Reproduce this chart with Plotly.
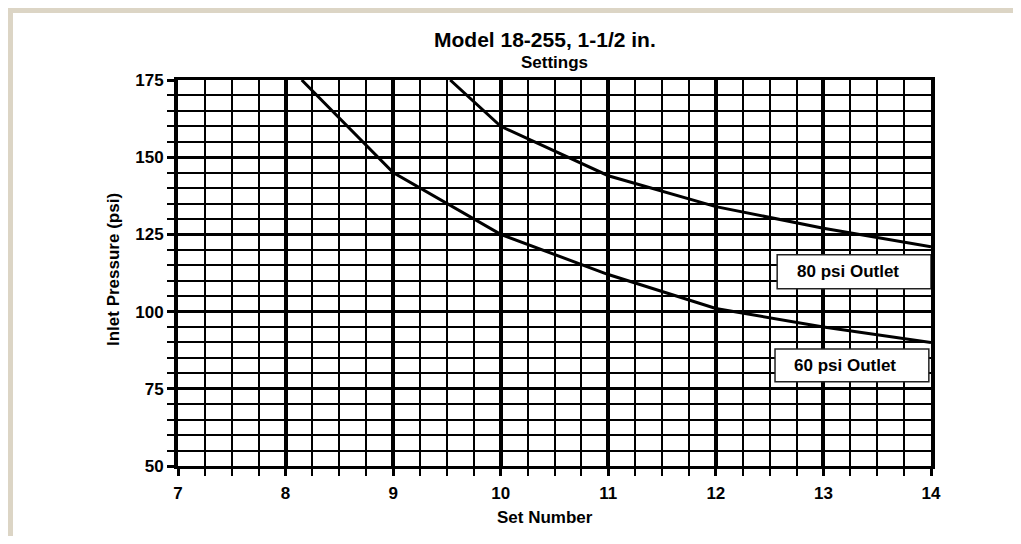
import plotly.graph_objects as go

# ---- data ----
set_60 = [8.15, 9, 10, 11, 12, 13, 14]
psi_60 = [175, 145, 125, 112, 101, 95, 90]
set_80 = [9.53, 10, 11, 12, 13, 14]
psi_80 = [175, 160, 144, 134, 127, 121]

x_ticks = [7, 8, 9, 10, 11, 12, 13, 14]
y_ticks = [50, 75, 100, 125, 150, 175]

labels = ["80 psi Outlet", "60 psi Outlet"]
# label boxes in data coords: x0, x1, y0, y1
box_80 = (12.57, 14.0, 107.4, 118.4)
box_60 = (12.55, 13.98, 77.3, 87.9)

# page has an 8px body margin: size the figure so the page does not overflow
OFF = 8
W, H = 1021 - 2 * OFF, 544 - 2 * OFF
L, T = 178 - OFF, 80 - OFF
R, B = W - (931 - OFF), H - (466 - OFF)
PW, PH = W - L - R, H - T - B

def px(x):  # reference-pixel x -> paper
    return (x - OFF - L) / PW

def py(y):  # reference-pixel y -> paper
    return (H - B - (y - OFF)) / PH

FONT = "Liberation Sans, Arial, sans-serif"
TAN = "#dcd5c5"

fig = go.Figure()
fig.add_trace(go.Scatter(x=set_60, y=psi_60, mode="lines",
                         line=dict(color="black", width=3), showlegend=False))
fig.add_trace(go.Scatter(x=set_80, y=psi_80, mode="lines",
                         line=dict(color="black", width=3), showlegend=False))

shapes = []
# tan frame
shapes.append(dict(type="rect", xref="paper", yref="paper", x0=px(5), x1=px(1030),
                   y0=py(5), y1=py(13), fillcolor=TAN, line=dict(width=0), layer="below"))
shapes.append(dict(type="rect", xref="paper", yref="paper", x0=px(5), x1=px(13),
                   y0=py(5), y1=py(550), fillcolor=TAN, line=dict(width=0), layer="below"))
# label boxes
for (x0, x1, y0, y1) in (box_80, box_60):
    shapes.append(dict(type="rect", xref="x", yref="y", x0=x0, x1=x1, y0=y0, y1=y1,
                       fillcolor="white", line=dict(color="#222", width=1.5), layer="above"))

annotations = []
for text, (x0, x1, y0, y1) in zip(labels, (box_80, box_60)):
    annotations.append(dict(x=(x0 + x1) / 2 - 0.06, y=(y0 + y1) / 2, xref="x", yref="y",
                            text=f"<b>{text}</b>", showarrow=False,
                            xanchor="center", yanchor="middle",
                            font=dict(family=FONT, size=17, color="black")))
annotations.append(dict(x=px(545), y=py(39), xref="paper", yref="paper",
                        text="<b>Model 18-255, 1-1/2 in.</b>", showarrow=False,
                        xanchor="center", yanchor="middle",
                        font=dict(family=FONT, size=21, color="black")))
annotations.append(dict(x=px(554), y=py(62), xref="paper", yref="paper",
                        text="<b>Settings</b>", showarrow=False,
                        xanchor="center", yanchor="middle",
                        font=dict(family=FONT, size=17, color="black")))
annotations.append(dict(x=px(545), y=py(517), xref="paper", yref="paper",
                        text="<b>Set Number</b>", showarrow=False,
                        xanchor="center", yanchor="middle",
                        font=dict(family=FONT, size=17, color="black")))
annotations.append(dict(x=px(113), y=py(270), xref="paper", yref="paper",
                        text="<b>Inlet Pressure (psi)</b>", showarrow=False, textangle=-90,
                        xanchor="center", yanchor="middle",
                        font=dict(family=FONT, size=17, color="black")))

fig.update_layout(
    width=W, height=H,
    margin=dict(l=L, r=R, t=T, b=B),
    paper_bgcolor="white", plot_bgcolor="white",
    shapes=shapes, annotations=annotations,
    font=dict(family=FONT, color="black"),
    xaxis=dict(range=[7, 14], tickvals=x_ticks, ticktext=[f"<b>{v}</b>" for v in x_ticks],
               showgrid=True, gridcolor="black", gridwidth=3.5,
               ticks="outside", ticklen=7, tickwidth=3, tickcolor="black",
               ticklabelstandoff=3,
               showline=True, linecolor="black", linewidth=3, mirror=True,
               zeroline=False, tickfont=dict(size=17, family=FONT),
               minor=dict(dtick=0.25, showgrid=True, gridcolor="black", gridwidth=1.8,
                          ticks="outside", ticklen=7, tickwidth=1.8, tickcolor="black")),
    yaxis=dict(range=[50, 175], tickvals=y_ticks, ticktext=[f"<b>{v}</b>" for v in y_ticks],
               showgrid=True, gridcolor="black", gridwidth=2.6,
               ticks="outside", ticklen=7, tickwidth=2.6, tickcolor="black",
               showline=True, linecolor="black", linewidth=4, mirror=True,
               zeroline=False, tickfont=dict(size=17, family=FONT),
               minor=dict(dtick=5, showgrid=True, gridcolor="black", gridwidth=1.8,
                          ticks="outside", ticklen=7, tickwidth=1.8, tickcolor="black")),
)

fig.write_html("out.html")
